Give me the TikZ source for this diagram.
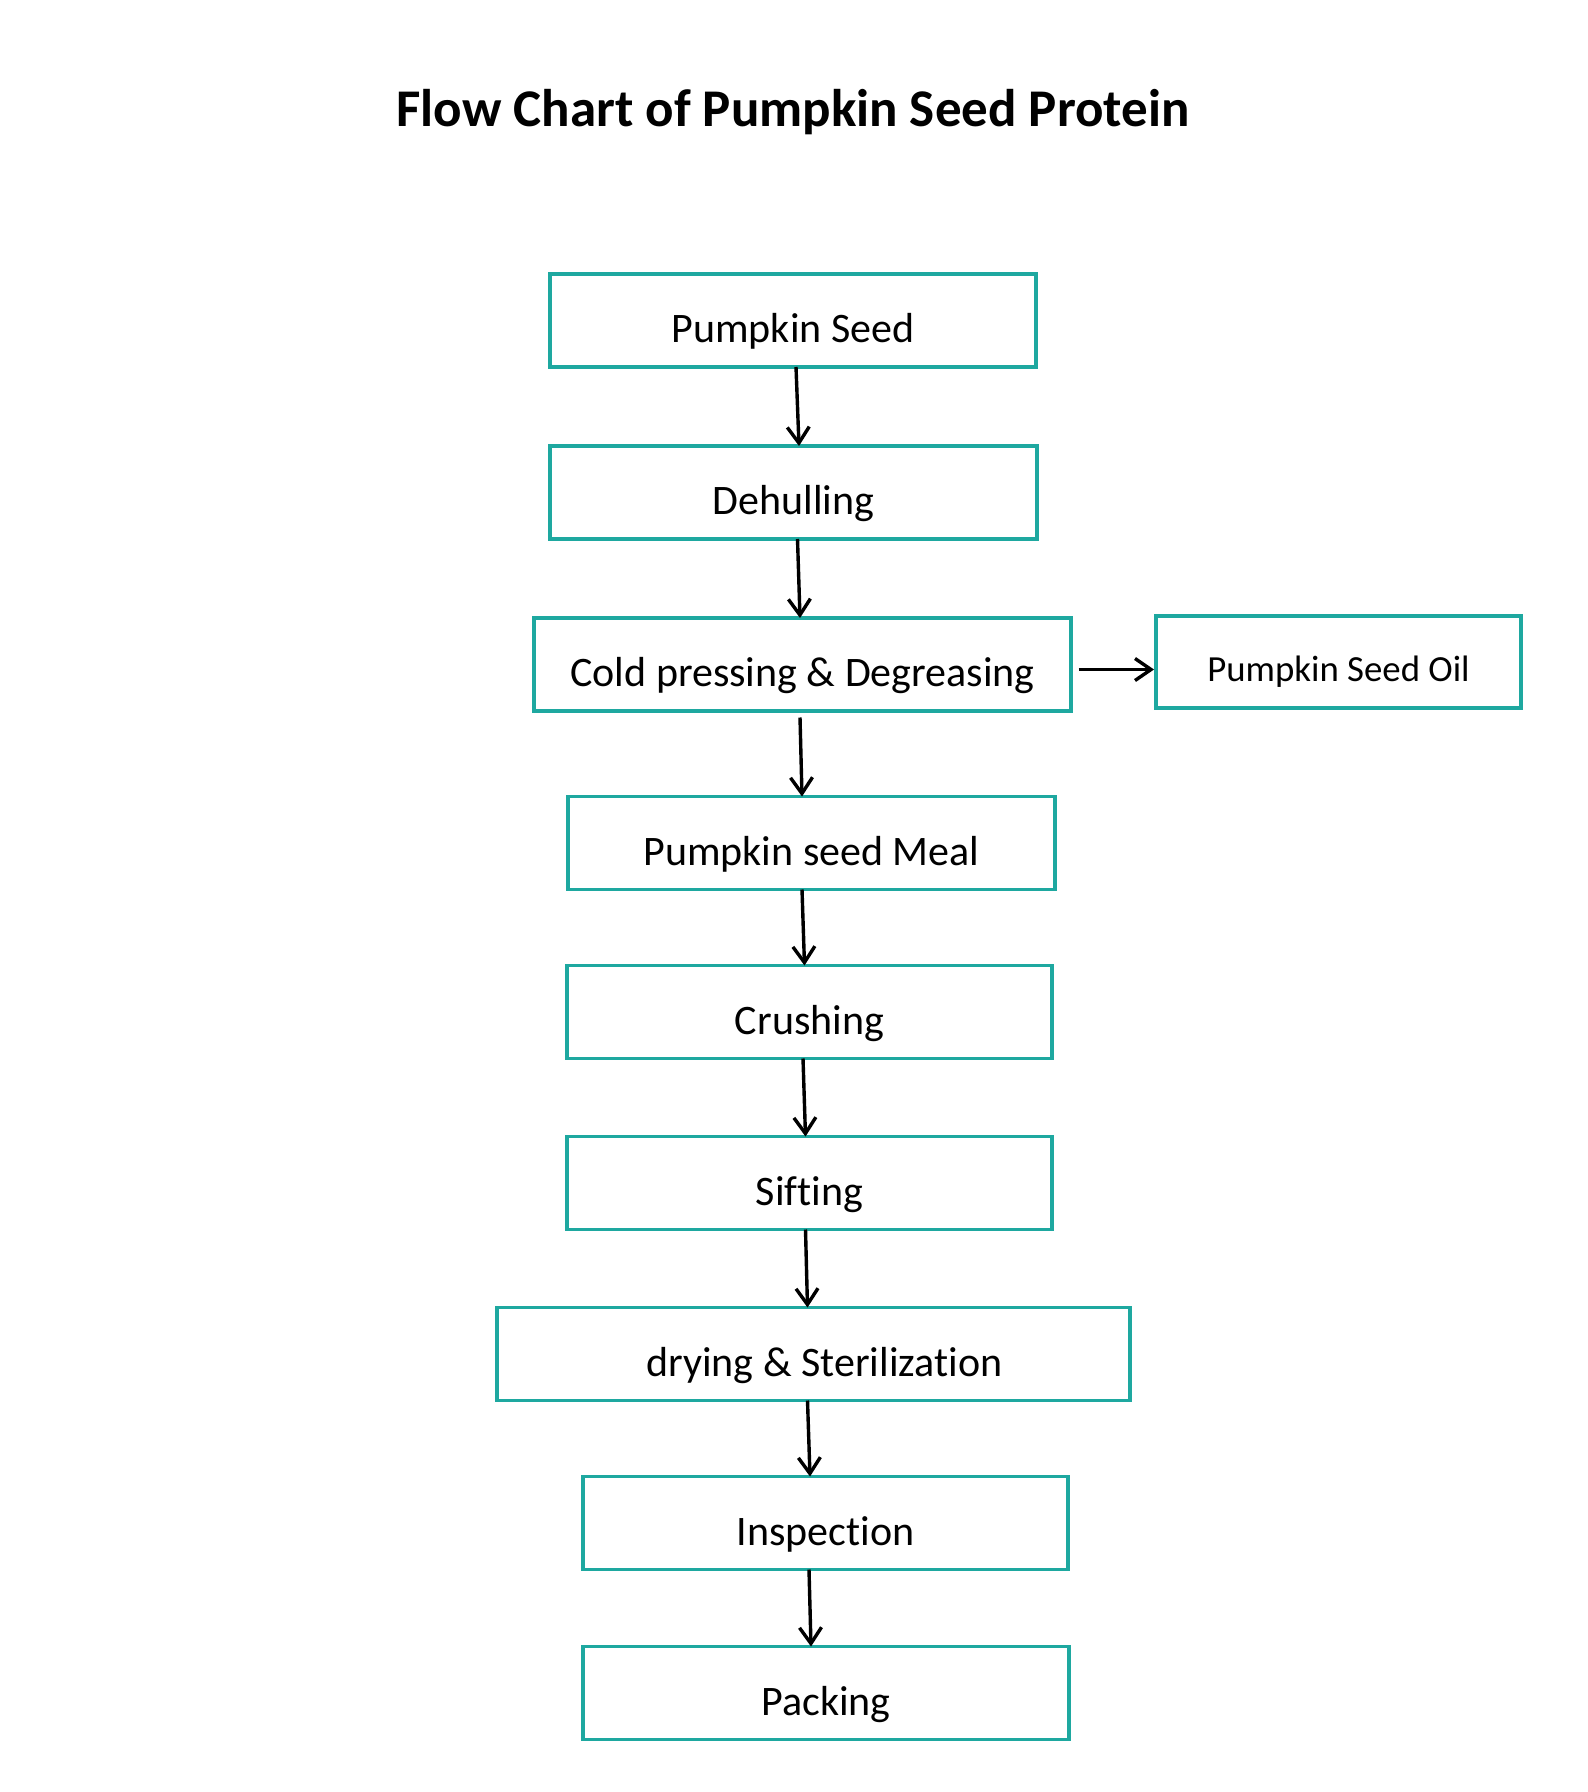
\documentclass[tikz,border=0pt]{standalone}
\usepackage{fontspec}
\setmainfont{Carlito}[Ligatures={NoCommon,NoRequired,NoContextual},Contextuals=NoAlternate]
\usetikzlibrary{arrows.meta,calc}
\definecolor{tealbox}{RGB}{30,168,160}

\begin{document}
\begin{tikzpicture}[
    x=0.5pt, y=-0.5pt,
    box/.style={rectangle, draw=tealbox, line width=1.8pt, inner sep=0pt, outer sep=0pt,
                minimum height=46.5pt, align=center, text height=22.3pt, text depth=0pt,
                font=\fontsize{21}{25}\selectfont},
    arrow/.style={-{Straight Barb[length=8pt,width=11pt]}, line width=1.7pt}
]
    \useasboundingbox[fill=white] (0,0) rectangle (1587,1792);

    \node[font=\bfseries\fontsize{26.5}{32}\selectfont] (title) at (793,112.5) {Flow Chart of Pumpkin Seed Protein};

    \node[box, minimum width=243pt] (seed) at (793,320.5) {Pumpkin Seed};
    \node[box, minimum width=243.5pt] (dehull) at (793.5,492.5) {Dehulling};
    \node[box, minimum width=268.5pt] (press) at (802.5,664.5) {Cold pressing \& Degreasing};
    \node[box, minimum width=182.5pt, minimum height=46pt, text height=19.5pt,
          font=\fontsize{18.4}{22}\selectfont] (oil) at (1338.5,662) {Pumpkin Seed Oil};
    \node[box, minimum width=243.5pt] (meal) at (811.5,843) {Pumpkin seed Meal};
    \node[box, minimum width=242.5pt] (crush) at (809.5,1012) {Crushing};
    \node[box, minimum width=242.5pt] (sift) at (809.5,1183) {Sif\kern0pt ting};
    \node[box, minimum width=316.5pt] (dry) at (813.5,1354) {\hspace*{11pt}drying \& Steriliza\kern0pt tion};
    \node[box, minimum width=242.5pt] (inspect) at (825.5,1523) {Inspec\kern0pt tion};
    \node[box, minimum width=243pt] (pack) at (826,1693) {Packing};

    % main line
    \draw[arrow] ($(seed.south)+(3,0)$) -- ($(dehull.north)+(5.5,0)$);
    \draw[arrow] ($(dehull.south)+(4,0)$) -- ($(press.north)+(-2.5,0)$);
    \draw[arrow] ($(press.south)+(-2.5,6.5)$) -- ($(meal.north)+(-9.5,0)$);
    \draw[arrow] ($(meal.south)+(-9.5,0)$) -- ($(crush.north)+(-5,0)$);
    \draw[arrow] ($(crush.south)+(-6.5,0)$) -- ($(sift.north)+(-4,0)$);
    \draw[arrow] ($(sift.south)+(-4,0)$) -- ($(dry.north)+(-6,0)$);
    \draw[arrow] ($(dry.south)+(-6,0)$) -- ($(inspect.north)+(-15.5,0)$);
    \draw[arrow] ($(inspect.south)+(-16.5,0)$) -- ($(pack.north)+(-15,0)$);

    % side product
    \draw[arrow] ($(press.east)+(7.5,5)$) -- ($(oil.west)+(-2,7.5)$);
\end{tikzpicture}
\end{document}
